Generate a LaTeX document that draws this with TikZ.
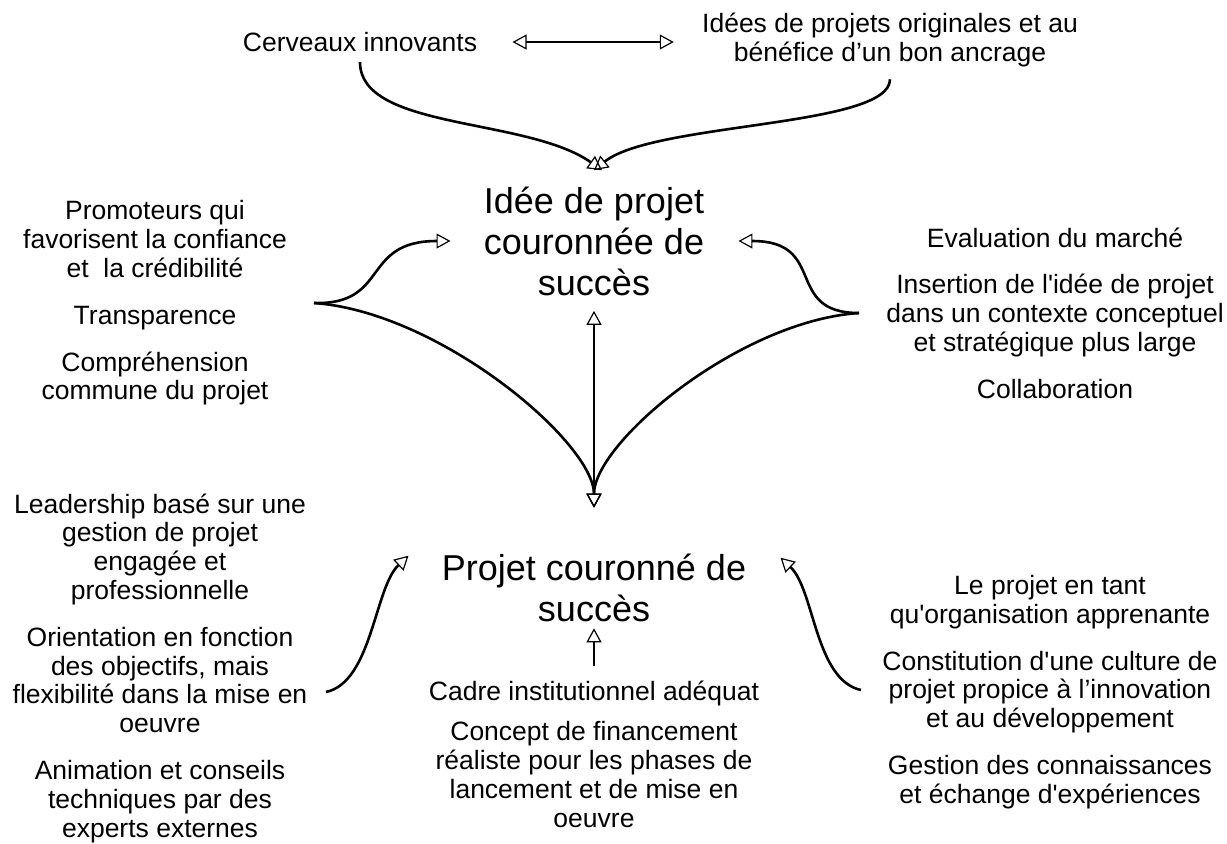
\documentclass[tikz,border=0pt]{standalone}
\usepackage{fontspec}
\setmainfont{Liberation Sans}
\usetikzlibrary{arrows.meta}

\newcommand{\apos}{\textquotesingle}

\tikzset{
  txt/.style={align=center, inner sep=0pt, font={\fontsize{13.25}{14.4}\selectfont}},
  title/.style={align=center, inner sep=0pt, font={\fontsize{18}{20.5}\selectfont}},
  feed/.style={->, line width=1.3pt},
  mutual/.style={<->, line width=0.9pt},
  lift/.style={->, line width=0.9pt},
}

\begin{document}
\begin{tikzpicture}[x=0.5pt, y=-0.5pt,
    >={Triangle[open, length=7pt, width=7.5pt, line width=0.6pt]}]
    \useasboundingbox (0,0) rectangle (1227,843);

    \node (idee) [title] at (594,241) {Idée de projet\\couronnée de\\succès};
    \node (projet) [title] at (594,588) {Projet couronné de\\succès};

    \node (cerv) [txt] at (360,42) {Cerveaux innovants};
    \node (idees) [txt] at (890,40) {Idées de projets originales et au\\bénéfice d’un bon ancrage};

    \node (lt) [txt] at (155,303) {Promoteurs qui\\favorisent la confiance\\et~ la crédibilité\\[9pt]
      Transparence\\[9pt]Compréhension\\commune du projet};
    \node (rt) [txt] at (1055,313) {Evaluation du marché\\[9pt]Insertion de l\apos idée de projet\\
      dans un contexte conceptuel\\et stratégique plus large\\[9pt]Collaboration};
    \node (lb) [txt] at (160,668) {Leadership basé sur une\\gestion de projet\\engagée et\\professionnelle\\[9pt]
      Orientation en fonction\\des objectifs, mais\\flexibilité dans la mise en\\oeuvre\\[9pt]
      Animation et conseils\\techniques par des\\experts externes};
    \node (rb) [txt] at (1050,692) {Le projet en tant\\qu\apos organisation apprenante\\[9pt]
      Constitution d\apos une culture de\\projet propice à l’innovation\\et au développement\\[9pt]
      Gestion des connaissances\\et échange d\apos expériences};
    \node (cb) [txt] at (594,754) {Cadre institutionnel adéquat\\[6pt]Concept de financement\\
      réaliste pour les phases de\\lancement et de mise en\\oeuvre};

    \coordinate (ltstart) at (314,303);
    \coordinate (rtstart) at (859,313);
    \coordinate (lbstart) at (326,692);
    \coordinate (rbstart) at (861,690);

    \draw [mutual] ([xshift=17.5pt]cerv.east) -- ([xshift=-14pt]cerv.east -| idees.west);
    \draw [feed] ([yshift=-5pt]cerv.south) .. controls +(0,68) and +(-75,-53) .. ([xshift=4pt,yshift=8pt]idee.north);
    \draw [feed] ([yshift=-6pt]idees.south) .. controls +(0,48) and +(60,-48) .. ([xshift=0pt,yshift=8pt]idee.north);

    \draw [feed] (ltstart) .. controls +(76,2) and +(-90,0) .. ([xshift=-16.5pt]idee.west);
    \draw [feed] (ltstart) .. controls +(126,9) and +(0,-65) .. ([yshift=23pt]projet.north);
    \draw [feed] (rtstart) .. controls +(-76,0) and +(90,0) .. ([xshift=17pt]idee.east);
    \draw [feed] (rtstart) .. controls +(-120,8) and +(0,-65) .. ([yshift=23pt]projet.north);
    \draw [mutual] ([yshift=-7.5pt]idee.south) -- ([yshift=23pt]projet.north);

    \draw [feed] (lbstart) .. controls +(46,-10) and +(-34,32) .. ([xshift=-16.5pt,yshift=-1pt]projet.north west);
    \draw [feed] (rbstart) .. controls +(-46,-10) and +(34,32) .. ([xshift=17pt,yshift=-2pt]projet.north east);
    \draw [lift] ([yshift=7pt]cb.north) -- ([yshift=-3pt]projet.south);
\end{tikzpicture}
\end{document}
